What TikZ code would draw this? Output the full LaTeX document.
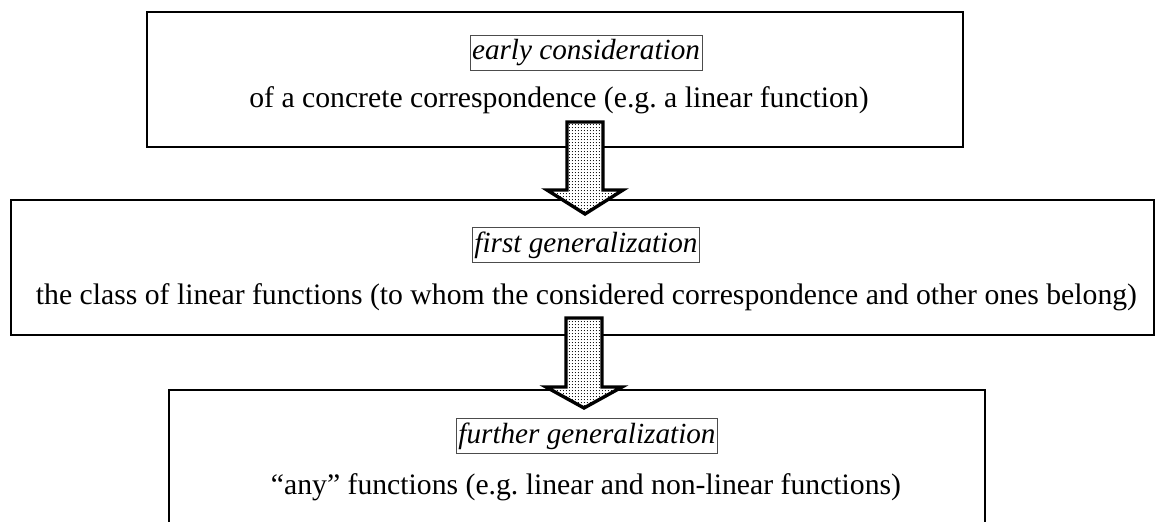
\documentclass[tikz,border=0pt]{standalone}
\usepackage{fontspec}
\setmainfont{Liberation Serif}
\usetikzlibrary{patterns.meta}
\tikzdeclarepattern{
  name=finedots,
  bottom left={(0pt,0pt)},
  top right={(1.7pt,1.7pt)},
  tile size={(1.7pt,1.7pt)},
  code={\fill (0.85pt,0.85pt) circle [radius=0.3pt];}
}
\tikzset{
  stage/.style={draw, line width=0.9pt, rectangle, inner sep=0pt},
  phase/.style={draw=black!70, line width=0.4pt, inner xsep=1pt, inner ysep=2pt,
    font=\fontsize{14.6}{17}\selectfont\itshape},
  content/.style={inner sep=0pt, font=\fontsize{14.85}{17}\selectfont},
  blockarrow/.style={line width=1.7pt, draw, fill=white, postaction={pattern=finedots}}
}
\frenchspacing
\begin{document}
\begin{tikzpicture}[x=0.5pt,y=-0.5pt]
 \useasboundingbox (0,0) rectangle (1155,522);
 \node (B1) [stage, minimum width=408pt, minimum height=67.5pt] at (555,79.5) {};
 \node (B2) [stage, minimum width=571.5pt, minimum height=67.5pt] at (582.5,267.5) {};
 \node (B3) [stage, minimum width=408pt, minimum height=67.5pt] at (577,457.5) {};

 \node (P1) [phase] at (586,53) {early consideration};
 \node (C1) [content] at (559,100) {of a concrete correspondence (e.g. a linear function)};
 \node (P2) [phase] at (586,245) {first generalization};
 \node (C2) [content] at (586.5,297) {the class of linear functions (to whom the considered correspondence and other ones belong)};
 \node (P3) [phase] at (587,436) {further generalization};
 \node (C3) [content] at (586,487) {``any'' functions (e.g. linear and non-linear functions)};

 \coordinate (A1) at (585,122);
 \coordinate (A2) at (584,318);
 \draw [blockarrow] (A1) ++(-18,0) -- ++(36,0) -- ++(0,68) -- ++(20,0) -- ++(-38,24) -- ++(-38,-24) -- ++(20,0) -- cycle;
 \draw [blockarrow] (A2) ++(-18,0) -- ++(36,0) -- ++(0,69) -- ++(20,0) -- ++(-38,21) -- ++(-38,-21) -- ++(20,0) -- cycle;
\end{tikzpicture}
\end{document}
